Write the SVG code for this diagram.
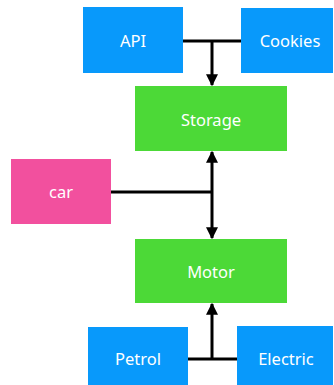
<svg xmlns="http://www.w3.org/2000/svg" width="334" height="385" viewBox="0 0 334 385">
  <style>
    .blue { fill: #0899fb; }
    .green { fill: #4cd937; }
    .pink { fill: #f2509e; }
    .label { font-family: "Noto Sans", "Open Sans", sans-serif; font-size: 16.5px; fill: #ffffff; text-anchor: middle; dominant-baseline: central; }
    .wire { stroke: #000000; stroke-width: 3; fill: none; }
  </style>
  <defs>
    <marker id="arrow" viewBox="0 0 10 10" refX="9" refY="5" markerWidth="4" markerHeight="4" orient="auto-start-reverse" markerUnits="strokeWidth">
      <path d="M0,0 L10,5 L0,10 z" fill="#000000"/>
    </marker>
  </defs>
  <rect width="334" height="385" fill="#ffffff"/>

  <g id="api">
    <rect class="blue" x="83" y="7" width="100" height="66"/>
    <text class="label" x="133" y="40">API</text>
  </g>
  <g id="cookies">
    <rect class="blue" x="241" y="8" width="92" height="65"/>
    <text class="label" x="290" y="40">Cookies</text>
  </g>
  <g id="storage">
    <rect class="green" x="135" y="86" width="152" height="65"/>
    <text class="label" x="211" y="119">Storage</text>
  </g>
  <g id="car">
    <rect class="pink" x="11" y="159" width="100" height="65"/>
    <text class="label" x="61" y="191">car</text>
  </g>
  <g id="motor">
    <rect class="green" x="135" y="239" width="152" height="64"/>
    <text class="label" x="211" y="271">Motor</text>
  </g>
  <g id="petrol">
    <rect class="blue" x="88" y="327" width="100" height="58"/>
    <text class="label" x="138" y="358">Petrol</text>
  </g>
  <g id="electric">
    <rect class="blue" x="237" y="326" width="96" height="59"/>
    <text class="label" x="286" y="358">Electric</text>
  </g>

  <g id="connectors">
    <!-- API / Cookies join into Storage -->
    <line class="wire" x1="183" y1="41" x2="241" y2="41"/>
    <line class="wire" x1="212" y1="41" x2="212" y2="85" marker-end="url(#arrow)"/>
    <!-- car feeds the Storage / Motor link -->
    <line class="wire" x1="111" y1="192" x2="212" y2="192"/>
    <line class="wire" x1="212" y1="152" x2="212" y2="238" marker-start="url(#arrow)" marker-end="url(#arrow)"/>
    <!-- Petrol / Electric join into Motor -->
    <line class="wire" x1="188" y1="359" x2="237" y2="359"/>
    <line class="wire" x1="212" y1="359" x2="212" y2="304" marker-end="url(#arrow)"/>
  </g>
</svg>
